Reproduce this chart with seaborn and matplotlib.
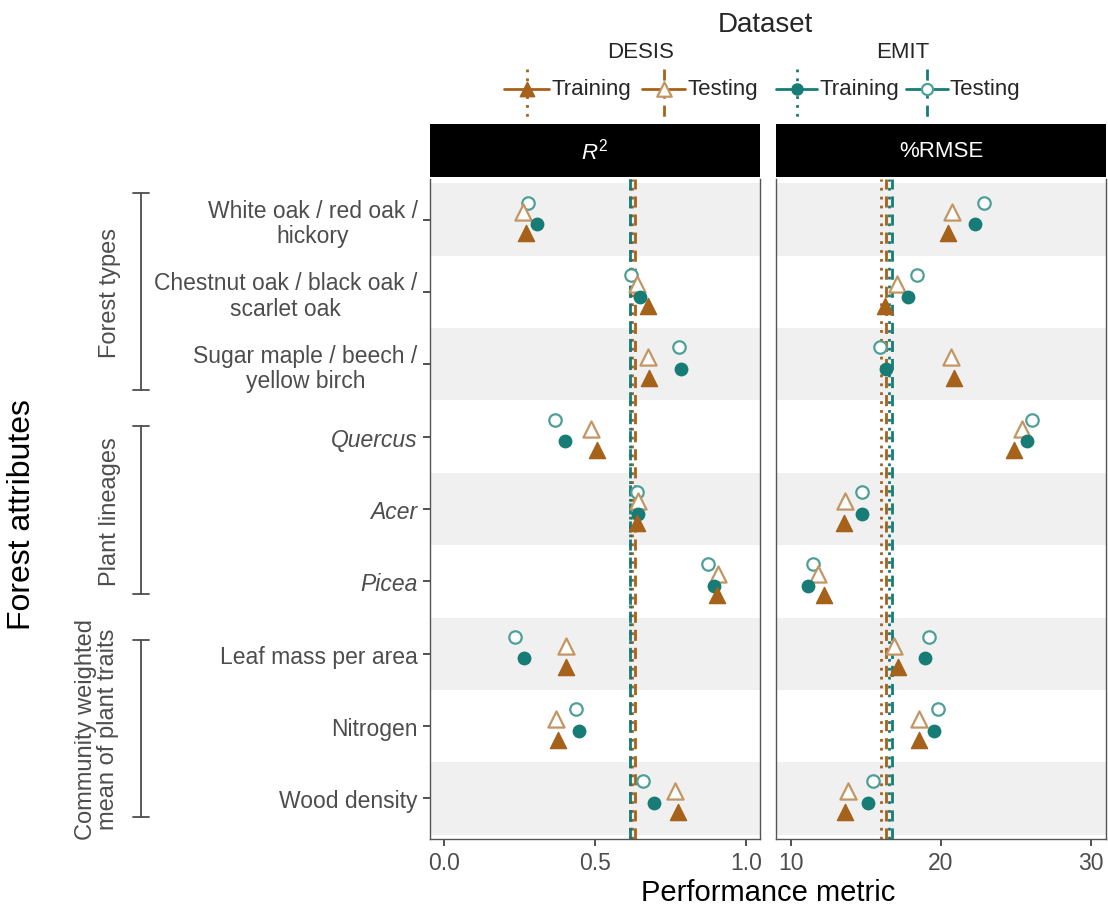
import numpy as np
import pandas as pd
import matplotlib
matplotlib.use("Agg")
import matplotlib.pyplot as plt
import matplotlib.transforms as mtransforms
from matplotlib.lines import Line2D
import seaborn as sns

# ---------------------------------------------------------------- data
categories = [
    "White oak / red oak /\nhickory",
    "Chestnut oak / black oak /\nscarlet oak",
    "Sugar maple / beech /\nyellow birch",
    "Quercus",
    "Acer",
    "Picea",
    "Leaf mass per area",
    "Nitrogen",
    "Wood density",
]
italic_categories = ["Quercus", "Acer", "Picea"]
group_names = ["Forest types", "Plant lineages", "Community weighted\nmean of plant traits"]

metrics = ["R2", "RMSE"]
metric_titles = [r"$R^2$", "%RMSE"]

r2_desis_train = [0.273, 0.676, 0.681, 0.506, 0.641, 0.906, 0.406, 0.378, 0.776]
r2_desis_test = [0.263, 0.641, 0.676, 0.487, 0.644, 0.908, 0.403, 0.370, 0.767]
r2_emit_train = [0.310, 0.648, 0.786, 0.402, 0.642, 0.894, 0.266, 0.446, 0.697]
r2_emit_test = [0.280, 0.620, 0.779, 0.367, 0.639, 0.874, 0.237, 0.439, 0.661]

rmse_desis_train = [20.49, 16.27, 20.87, 24.87, 13.55, 12.22, 17.15, 18.53, 13.60]
rmse_desis_test = [20.71, 17.05, 20.67, 25.42, 13.60, 11.78, 16.85, 18.53, 13.82]
rmse_emit_train = [22.27, 17.78, 16.33, 25.71, 14.75, 11.15, 18.93, 19.55, 15.11]
rmse_emit_test = [22.87, 18.42, 15.93, 26.09, 14.71, 11.45, 19.22, 19.78, 15.45]

# overall reference values per dataset / split
ref_r2 = {("DESIS", "Training"): 0.622, ("DESIS", "Testing"): 0.632,
          ("EMIT", "Training"): 0.615, ("EMIT", "Testing"): 0.618}
ref_rmse = {("DESIS", "Training"): 16.00, ("DESIS", "Testing"): 16.35,
            ("EMIT", "Training"): 16.50, ("EMIT", "Testing"): 16.70}

series = {
    ("R2", "DESIS", "Training"): r2_desis_train,
    ("R2", "DESIS", "Testing"): r2_desis_test,
    ("R2", "EMIT", "Training"): r2_emit_train,
    ("R2", "EMIT", "Testing"): r2_emit_test,
    ("RMSE", "DESIS", "Training"): rmse_desis_train,
    ("RMSE", "DESIS", "Testing"): rmse_desis_test,
    ("RMSE", "EMIT", "Training"): rmse_emit_train,
    ("RMSE", "EMIT", "Testing"): rmse_emit_test,
}
rows = []
for (metric, dataset, split), vals in series.items():
    for cat, v in zip(categories, vals):
        rows.append(dict(metric=metric, dataset=dataset, split=split,
                         attribute=cat, value=v))
df = pd.DataFrame(rows)

# ---------------------------------------------------------------- styling
BROWN = "#a6611a"
TEAL = "#167c75"
BROWN_LIGHT = "#c39563"
TEAL_LIGHT = "#4f9f99"
GREY_TXT = "#4d4d4d"
BAND = "#f0f0f0"

# vertical dodge inside each attribute row (top to bottom)
dodge = {("EMIT", "Testing"): -0.235, ("DESIS", "Testing"): -0.105,
         ("EMIT", "Training"): 0.065, ("DESIS", "Training"): 0.19}
style = {
    ("DESIS", "Training"): dict(marker="^", s=135, color=BROWN, edgecolor=BROWN, linewidth=1.0),
    ("DESIS", "Testing"): dict(marker="^", s=135, color="white", edgecolor=BROWN_LIGHT, linewidth=1.6),
    ("EMIT", "Training"): dict(marker="o", s=80, color=TEAL, edgecolor=TEAL, linewidth=1.0),
    ("EMIT", "Testing"): dict(marker="o", s=80, color="white", edgecolor=TEAL_LIGHT, linewidth=1.6),
}
line_color = {"DESIS": BROWN, "EMIT": TEAL}
line_style = {"Training": (0, (1, 2.2)), "Testing": (0, (4, 2.5))}

cat_index = {c: i for i, c in enumerate(categories)}
df["y"] = [cat_index[a] + dodge[(d, s)] for a, d, s in zip(df["attribute"], df["dataset"], df["split"])]

sns.set_theme(style="white")
plt.rcParams["font.family"] = ["Liberation Sans", "DejaVu Sans"]
plt.rcParams["mathtext.fontset"] = "custom"
plt.rcParams["mathtext.it"] = "Liberation Sans:italic"
plt.rcParams["mathtext.rm"] = "Liberation Sans"

W, H = 1108, 912
fig = plt.figure(figsize=(W / 100, H / 100), dpi=100)


def frac_box(x0, y0, x1, y1):
    return [x0 / W, 1 - y1 / H, (x1 - x0) / W, (y1 - y0) / H]


panel_px = [(430, 180, 760, 840), (776, 180, 1106, 840)]
xlims = [(-0.046, 1.047), (9.0, 31.0)]
xticks = [[0.0, 0.5, 1.0], [10, 20, 30]]
xticklabels = [["0.0", "0.5", "1.0"], ["10", "20", "30"]]
refs = [ref_r2, ref_rmse]

axes = []
for k, metric in enumerate(metrics):
    x0, y0, x1, y1 = panel_px[k]
    ax = fig.add_axes(frac_box(x0, y0, x1, y1))
    axes.append(ax)
    ax.set_facecolor("white")
    for i in range(0, len(categories), 2):
        ax.axhspan(i - 0.5, i + 0.5, color=BAND, lw=0, zorder=0)
    for (dataset, split), v in refs[k].items():
        ax.axvline(v, color=line_color[dataset], linestyle=line_style[split],
                   linewidth=2.0, zorder=1)
    sub = df[df["metric"] == metric]
    for key in [("EMIT", "Testing"), ("DESIS", "Testing"), ("EMIT", "Training"), ("DESIS", "Training")]:
        part = sub[(sub["dataset"] == key[0]) & (sub["split"] == key[1])]
        sns.scatterplot(data=part, x="value", y="y", ax=ax, legend=False, zorder=3,
                        **style[key])
    ax.set_xlim(*xlims[k])
    ax.set_ylim(len(categories) - 0.44, -0.56)
    ax.set_xticks(xticks[k])
    ax.set_xticklabels(xticklabels[k])
    ax.set_xlabel("")
    ax.set_ylabel("")
    ax.tick_params(axis="x", length=5, width=1.2, color="#333333", labelsize=16.5,
                   labelcolor=GREY_TXT, pad=4, bottom=True)
    for sp in ax.spines.values():
        sp.set_color("#555555")
        sp.set_linewidth(1.0)
    ax.spines["top"].set_visible(False)
    if k == 0:
        ax.set_yticks(range(len(categories)))
        ax.set_yticklabels(categories, multialignment="center", linespacing=1.12)
        ax.tick_params(axis="y", length=5, width=1.2, color="#333333", labelsize=16.5,
                       labelcolor=GREY_TXT, pad=4, left=True)
        for lab in ax.get_yticklabels():
            if lab.get_text() in italic_categories:
                lab.set_fontstyle("italic")
    else:
        ax.set_yticks([])

    # facet strip
    sx = fig.add_axes(frac_box(x0, 125, x1, 178))
    sx.set_facecolor("black")
    sx.set_xticks([])
    sx.set_yticks([])
    for sp in sx.spines.values():
        sp.set_visible(False)
    sx.text(0.5, 0.5, metric_titles[k], color="white", fontsize=16,
            ha="center", va="center", transform=sx.transAxes)

# ---------------------------------------------------------------- group brackets
ax0 = axes[0]
trans = mtransforms.blended_transform_factory(fig.transFigure, ax0.transData)
bracket_spans = [(-0.36, 2.36), (2.86, 5.18), (5.81, 8.25)]
label_x = [110 / W, 110 / W, 97 / W]
bx, cap = 141 / W, 8 / W
for name, (ya, yb), lx in zip(group_names, bracket_spans, label_x):
    for seg in ([bx, bx], [ya, yb]), ([bx - cap, bx + cap], [ya, ya]), ([bx - cap, bx + cap], [yb, yb]):
        fig.add_artist(Line2D(seg[0], seg[1], transform=trans, color=GREY_TXT, lw=1.3))
    fig.text(lx, (ya + yb) / 2, name, transform=trans, rotation=90, ha="center",
             va="center", multialignment="center", fontsize=17, color=GREY_TXT,
             linespacing=1.05)

fig.text(22 / W, 1 - 515 / H, "Forest attributes", rotation=90, ha="center",
         va="center", fontsize=23, color="black")
fig.text(768 / W, 1 - 893 / H, "Performance metric", ha="center", va="center",
         fontsize=21, color="black")

# ---------------------------------------------------------------- legend
lg = fig.add_axes(frac_box(490, 0, 1050, 125))
lg.set_xlim(490, 1050)
lg.set_ylim(125, 0)
lg.axis("off")
lg.text(765, 25, "Dataset", ha="center", va="center", fontsize=20)
lg.text(641, 53, "DESIS", ha="center", va="center", fontsize=16)
lg.text(903, 53, "EMIT", ha="center", va="center", fontsize=16)
legend_items = [
    (("DESIS", "Training"), 504, 549),
    (("DESIS", "Testing"), 642, 685),
    (("EMIT", "Training"), 776, 817),
    (("EMIT", "Testing"), 906, 948),
]
for key, xa, xb in legend_items:
    xc = (xa + xb) / 2
    col = line_color[key[0]]
    lg.plot([xa, xb], [90, 90], color=col, lw=2)
    lg.plot([xc, xc], [70, 121], color=col, lw=2, linestyle=line_style[key[1]])
    st = style[key]
    lg.scatter([xc], [90], marker=st["marker"], s=st["s"] * 0.8, c=st["color"],
               edgecolors=st["edgecolor"], linewidths=st["linewidth"], zorder=3)
    lg.text(xb + 2, 89, key[1], ha="left", va="center", fontsize=16)

fig.savefig("out.png", dpi=100, facecolor="white")
